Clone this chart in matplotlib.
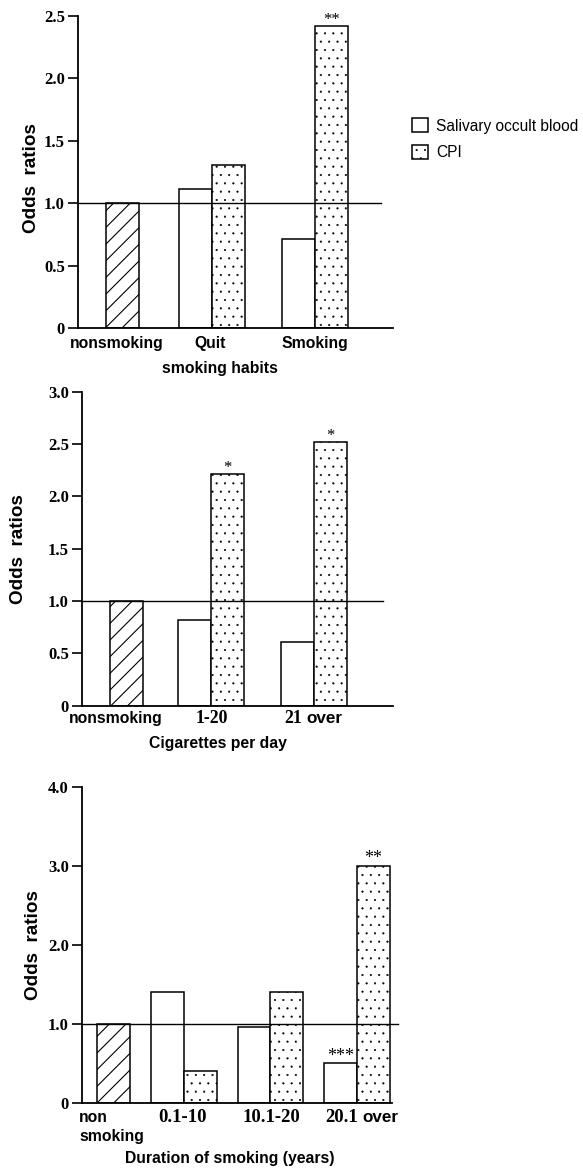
import numpy as np
import matplotlib
matplotlib.use('Agg')
import matplotlib.pyplot as plt
from matplotlib.patches import Patch

W, H, DPI = 583, 1169, 100
SERIF = 'Liberation Serif'
SANS = 'Liberation Sans'
plt.rcParams['hatch.linewidth'] = 0.8

# ---------------- data ----------------
series_names = ['Salivary occult blood', 'CPI']
reference_value = 1.0

p1_categories = ['nonsmoking', 'Quit', 'Smoking']
p1_sob = [1.11, 0.71]
p1_cpi = [1.31, 2.42]
p1_sob_stars = ['', '']
p1_cpi_stars = ['', '**']
p1_yticks = [0, 0.5, 1.0, 1.5, 2.0, 2.5]
p1_yticklabels = ['0', '0.5', '1.0', '1.5', '2.0', '2.5']
p1_xlabel = 'smoking habits'

p2_categories = ['nonsmoking', '1-20', '21 over']
p2_sob = [0.82, 0.61]
p2_cpi = [2.21, 2.52]
p2_sob_stars = ['', '']
p2_cpi_stars = ['*', '*']
p2_yticks = [0, 0.5, 1.0, 1.5, 2.0, 2.5, 3.0]
p2_yticklabels = ['0', '0.5', '1.0', '1.5', '2.0', '2.5', '3.0']
p2_xlabel = 'Cigarettes per day'

p3_categories = ['non\nsmoking', '0.1-10', '10.1-20', '20.1 over']
p3_sob = [1.41, 0.97, 0.51]
p3_cpi = [0.41, 1.41, 3.01]
p3_sob_stars = ['', '', '***']
p3_cpi_stars = ['', '', '**']
p3_yticks = [0, 1.0, 2.0, 3.0, 4.0]
p3_yticklabels = ['0', '1.0', '2.0', '3.0', '4.0']
p3_xlabel = 'Duration of smoking (years)'

ylabel_text = 'Odds  ratios'

DOT_HATCH_LW = 0.3

# ---------------- helpers ----------------
fig = plt.figure(figsize=(W / DPI, H / DPI), dpi=DPI)


def px_axes(left, right, top, bottom):
    return fig.add_axes([left / W, 1 - bottom / H, (right - left) / W, (bottom - top) / H])


def fig_text(x, y, s, **kw):
    fig.text(x / W, 1 - y / H, s, **kw)


PT = 72.0 / DPI  # points per pixel


def panel(ax, categories, sob, cpi, sob_stars, cpi_stars, yticks, yticklabels,
          xlim, width, ref_shift, refline_end, label_dy, label_dx, num_size,
          star_size, line_pitch=19):
    x = np.arange(len(categories))
    ax.set_xlim(*xlim)
    ax.set_ylim(yticks[0], yticks[-1])
    # reference (nonsmoking) hatched bar
    ax.bar(x[0] + ref_shift, reference_value, width=width, align='edge',
           facecolor='white', edgecolor='black', hatch='//', linewidth=1.1, zorder=2)
    ax.bar(x[1:], sob, width=-width, align='edge', facecolor='white',
           edgecolor='black', linewidth=1.1, zorder=2)
    with plt.rc_context({'hatch.linewidth': DOT_HATCH_LW}):
        ax.bar(x[1:], cpi, width=width, align='edge', facecolor='white',
               edgecolor='black', hatch='..', linewidth=1.1, zorder=2)
    ax.axhline(reference_value, xmin=0, xmax=refline_end, color='black',
               lw=1.0, zorder=3, clip_on=False)
    for xi, v, s in zip(x[1:], sob, sob_stars):
        if s:
            ax.annotate(s, xy=(xi - width / 2, v), xytext=(0, 1.5), textcoords='offset points',
                        ha='center', va='baseline', family=SERIF, fontsize=star_size,
                        annotation_clip=False)
    for xi, v, s in zip(x[1:], cpi, cpi_stars):
        if s:
            ax.annotate(s, xy=(xi + width / 2, v), xytext=(0, 1.5), textcoords='offset points',
                        ha='center', va='baseline', family=SERIF, fontsize=star_size,
                        annotation_clip=False)
    # spines & ticks
    for side in ['top', 'right']:
        ax.spines[side].set_visible(False)
    ax.spines['left'].set_linewidth(1.3)
    ax.spines['bottom'].set_linewidth(1.3)
    ax.set_xticks([])
    ax.set_yticks(yticks)
    ax.set_yticklabels(yticklabels, family=SERIF, fontweight='bold', fontsize=12)
    ax.tick_params(axis='y', direction='out', length=7, width=1.2, pad=2.5)
    # category labels
    for xi, lab, dx in zip(x, categories, label_dx):
        lines = lab.split('\n')
        if len(lines) > 1:
            for k, ln in enumerate(lines):
                ax.annotate(ln, xy=(xi, 0), xycoords=('data', 'axes fraction'),
                            xytext=(dx * PT, -(label_dy + k * line_pitch) * PT),
                            textcoords='offset points', ha='left', va='baseline',
                            family=SANS, fontweight='bold', fontsize=11.3,
                            annotation_clip=False)
            continue
        parts = lab.split(' ')
        if len(parts) == 2 and parts[0][0].isdigit():
            ax.annotate(parts[0], xy=(xi, 0), xycoords=('data', 'axes fraction'),
                        xytext=(dx * PT, -label_dy * PT), textcoords='offset points',
                        ha='right', va='baseline', family=SERIF, fontweight='bold',
                        fontsize=num_size, annotation_clip=False)
            ax.annotate(parts[1], xy=(xi, 0), xycoords=('data', 'axes fraction'),
                        xytext=((dx + 4) * PT, -label_dy * PT), textcoords='offset points',
                        ha='left', va='baseline', family=SANS, fontweight='bold',
                        fontsize=12.3, annotation_clip=False)
        else:
            numeric = lab[0].isdigit()
            ax.annotate(lab, xy=(xi, 0), xycoords=('data', 'axes fraction'),
                        xytext=(dx * PT, -label_dy * PT), textcoords='offset points',
                        ha='center', va='baseline',
                        family=SERIF if numeric else SANS, fontweight='bold',
                        fontsize=num_size if numeric else 11.3, annotation_clip=False)


# ---------------- panel 1 ----------------
ax1 = px_axes(78, 393, 16, 328)
panel(ax1, p1_categories, p1_sob, p1_cpi, p1_sob_stars, p1_cpi_stars,
      p1_yticks, p1_yticklabels, xlim=(-0.301, 2.757), width=0.32, ref_shift=-0.03,
      refline_end=0.962, label_dy=20, label_dx=[8, -2, 0], num_size=12.5, star_size=12)
fig_text(220, 373, p1_xlabel, ha='center', va='baseline', family=SANS,
         fontweight='bold', fontsize=11.3)
fig_text(32, 178, ylabel_text, ha='center', va='center', rotation=90,
         family=SANS, fontweight='bold', fontsize=13.6)

# ---------------- panel 2 ----------------
ax2 = px_axes(82, 393, 391.7, 705.7)
panel(ax2, p2_categories, p2_sob, p2_cpi, p2_sob_stars, p2_cpi_stars,
      p2_yticks, p2_yticklabels, xlim=(-0.252, 2.767), width=0.32, ref_shift=0.02,
      refline_end=0.968, label_dy=17.3, label_dx=[8, 1, -12], num_size=12.8, star_size=12)
fig_text(218, 748, p2_xlabel, ha='center', va='baseline', family=SANS,
         fontweight='bold', fontsize=11.3)
fig_text(19, 549, ylabel_text, ha='center', va='center', rotation=90,
         family=SANS, fontweight='bold', fontsize=13.6)

# ---------------- panel 3 ----------------
ax3 = px_axes(82, 392, 787.3, 1103.3)
panel(ax3, p3_categories, p3_sob, p3_cpi, p3_sob_stars, p3_cpi_stars,
      p3_yticks, p3_yticklabels, xlim=(-0.179, 3.405), width=0.38, ref_shift=0.0,
      refline_end=1.019, label_dy=18.7, label_dx=[-18.5, -1, 1, 1], num_size=13.5,
      star_size=13)
fig_text(230, 1163, p3_xlabel, ha='center', va='baseline', family=SANS,
         fontweight='bold', fontsize=11.3)
fig_text(34, 945, ylabel_text, ha='center', va='center', rotation=90,
         family=SANS, fontweight='bold', fontsize=13.6)

# ---------------- legend ----------------
with plt.rc_context({'hatch.linewidth': DOT_HATCH_LW}):
    handles = [Patch(facecolor='white', edgecolor='black', linewidth=1.1),
               Patch(facecolor='white', edgecolor='black', hatch='..', linewidth=1.1)]
    fig.legend(handles, series_names, loc='upper left',
               bbox_to_anchor=(412 / W, 1 - 118 / H), frameon=False, borderpad=0,
               borderaxespad=0, handlelength=1.05, handleheight=1.05, handletextpad=0.5,
               labelspacing=0.72, prop={'family': SANS, 'size': 11.2})

fig.savefig('out.png', dpi=DPI)
